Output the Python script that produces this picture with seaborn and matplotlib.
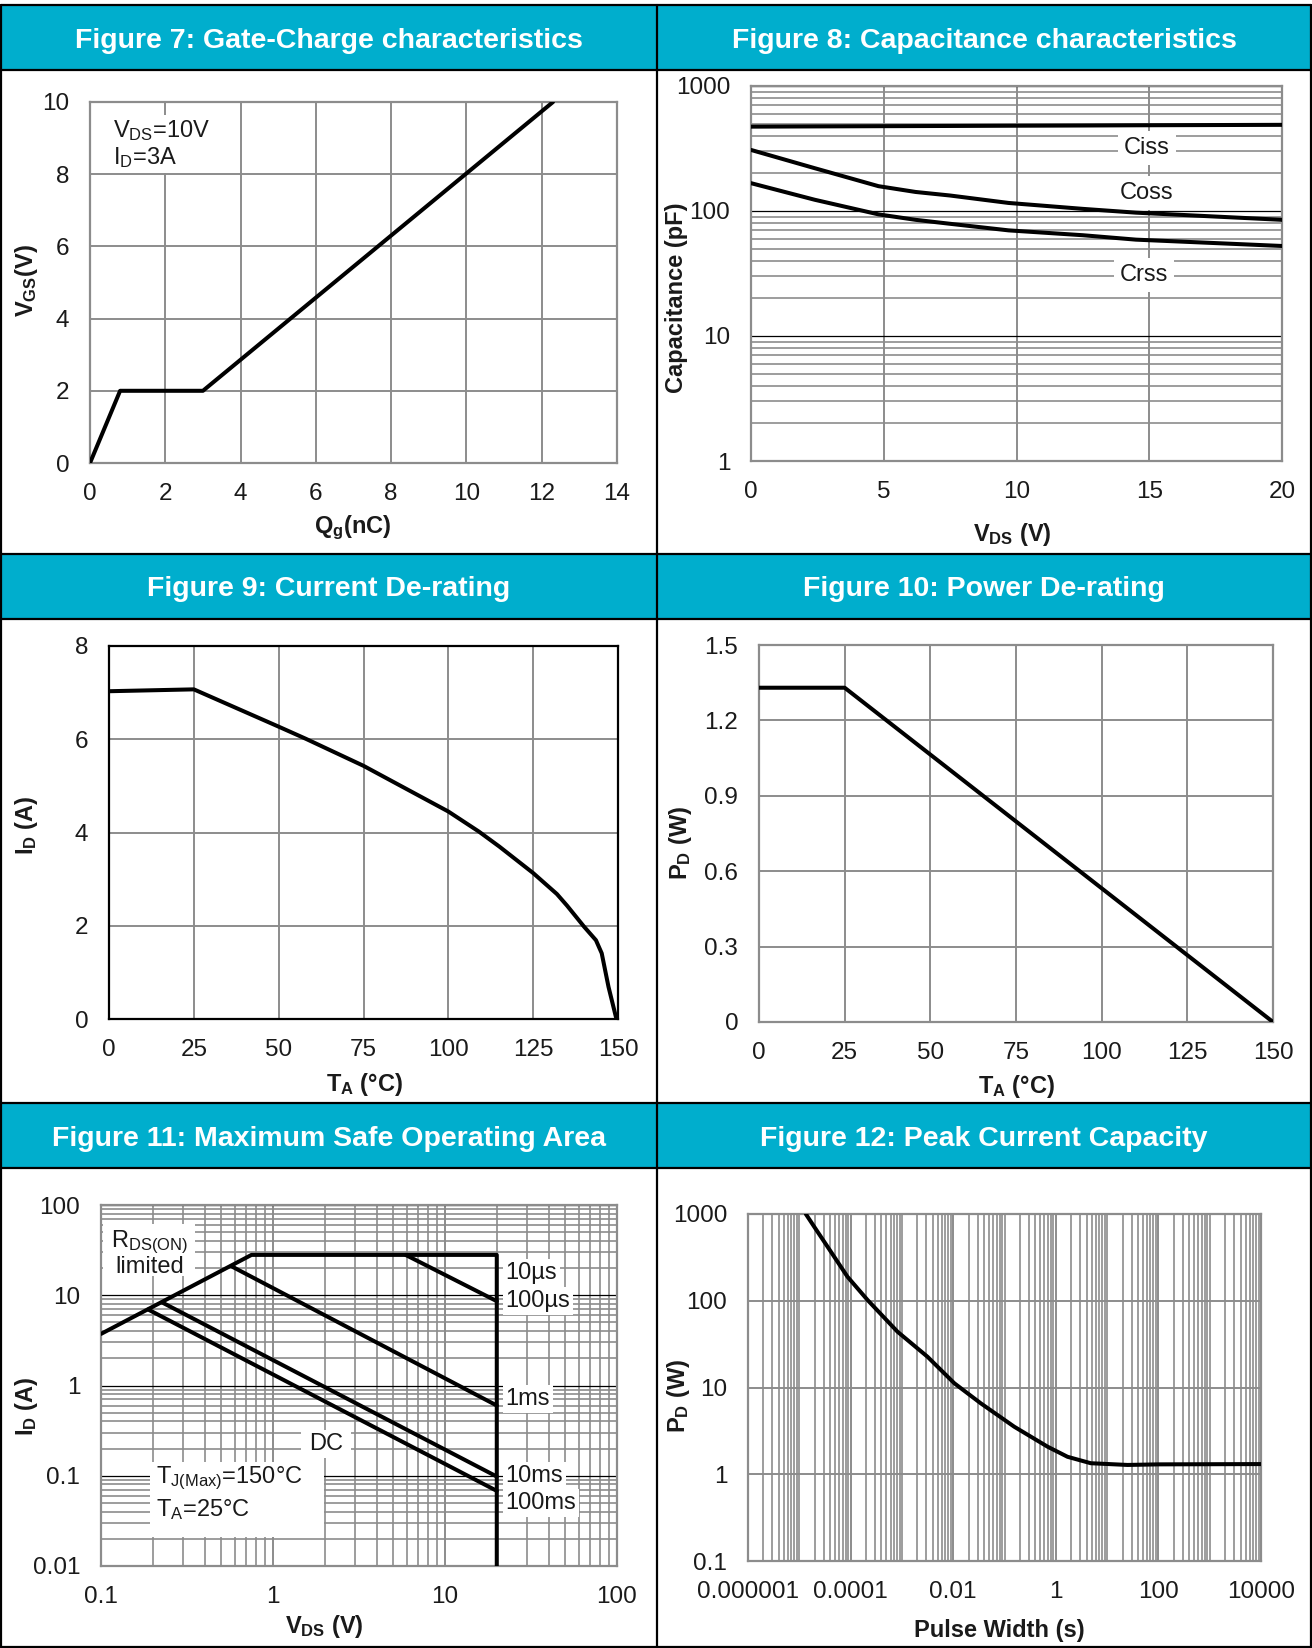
import matplotlib
matplotlib.use("Agg")
import matplotlib.pyplot as plt
from matplotlib.patches import Rectangle
from matplotlib.ticker import LogLocator, NullFormatter, FixedLocator, FixedFormatter
import seaborn as sns

W, H = 1312, 1648
TEAL = "#00AECD"
GRID = "#8c8c8c"
INK = "#1a1a1a"

# Figure 7: gate charge
qg = [0, 0.8, 3.0, 12.3]
vgs = [0, 2, 2, 10]

# Figure 8: capacitance vs VDS
vds_cap = [0, 2.4, 4.8, 6.2, 7.5, 9.7, 12.5, 14.5, 20]
ciss = [473, 475, 477, 478, 479, 481, 483, 485, 489]
coss = [308, 220, 158, 142, 133, 116, 104, 97, 85]
crss = [167, 123, 94, 85, 79, 70, 64, 59, 52.5]

# Figure 9: current de-rating
ta_id = [0, 25, 50, 58, 75, 100, 109, 115, 125, 132, 135, 140, 143.5, 145.2, 147.2, 149.4, 150]
id_max = [7.03, 7.07, 6.27, 6.01, 5.43, 4.45, 4.02, 3.70, 3.13, 2.68, 2.43, 1.98, 1.69, 1.41, 0.69, 0.04, 0]

# Figure 10: power de-rating
ta_pd = [0, 25, 150]
pd_max = [1.33, 1.33, 0]

# Figure 11: safe operating area
soa_lines = {
    "limit": ([0.1, 0.75, 20, 20], [3.73, 28, 28, 0.01]),
    "10us": ([5.9, 20], [28, 8.6]),
    "1ms": ([0.58, 20], [20.7, 0.6]),
    "10ms": ([0.226, 20], [8.35, 0.098]),
    "dc": ([0.188, 20], [6.95, 0.068]),
}
soa_xticks = [0.1, 1, 10, 100]
soa_xlabels = ["0.1", "1", "10", "100"]
soa_yticks = [0.01, 0.1, 1, 10, 100]
soa_ylabels = ["0.01", "0.1", "1", "10", "100"]

# Figure 12: peak current capacity
pulse_w = [1.34e-5, 1.95e-5, 3.55e-5, 8.7e-5, 2.14e-4, 8.2e-4, 3.16e-3, 1.05e-2,
           3.45e-2, 0.155, 0.69, 1.69, 4.8, 25, 100, 1e4]
peak_p = [1000, 714, 420, 189, 102, 44, 22.6, 11.2, 6.57, 3.53, 2.08, 1.59, 1.34,
          1.28, 1.30, 1.31]
pw_ticks = [1e-6, 1e-4, 1e-2, 1, 100, 1e4]
pw_labels = ["0.000001", "0.0001", "0.01", "1", "100", "10000"]
pk_ticks = [0.1, 1, 10, 100, 1000]
pk_labels = ["0.1", "1", "10", "100", "1000"]

titles = [
    "Figure 7: Gate-Charge characteristics",
    "Figure 8: Capacitance characteristics",
    "Figure 9: Current De-rating",
    "Figure 10: Power De-rating",
    "Figure 11: Maximum Safe Operating Area",
    "Figure 12: Peak Current Capacity",
]

sns.set_theme(style="white")
plt.rcParams["font.family"] = ["Liberation Sans", "DejaVu Sans"]
plt.rcParams["mathtext.fontset"] = "custom"
plt.rcParams["mathtext.rm"] = "Liberation Sans"
plt.rcParams["mathtext.bf"] = "Liberation Sans:bold"
plt.rcParams["mathtext.default"] = "regular"

fig = plt.figure(figsize=(W / 100, H / 100), dpi=100)
fig.patch.set_facecolor("white")

# frame and teal header bands
bg = fig.add_axes([0, 0, 1, 1])
bg.set_xlim(0, W)
bg.set_ylim(H, 0)
bg.axis("off")
headers = [(5, 70), (554, 619), (1103, 1168)]
for top, bot in headers:
    bg.add_patch(Rectangle((1, top), W - 2, bot - top, facecolor=TEAL, edgecolor="none"))
for y in [5, 70, 554, 619, 1103, 1168, H - 1]:
    bg.plot([1, W - 1], [y, y], color="black", lw=1.6)
for x in [1, 657, W - 1]:
    bg.plot([x, x], [5, H - 1], color="black", lw=1.6)
for i, t in enumerate(titles):
    top, bot = headers[i // 2]
    cx = 329 if i % 2 == 0 else 984
    bg.text(cx, (top + bot) / 2 + 3, t, color="white", fontsize=20.5, fontweight="bold",
            ha="center", va="center")


def place(x0, y0, x1, y1):
    ax = fig.add_axes([x0 / W, 1 - y1 / H, (x1 - x0) / W, (y1 - y0) / H])
    ax.box = (x0, y0, x1, y1)
    return ax


def style(ax, spine=GRID):
    for s in ax.spines.values():
        s.set_color(spine)
        s.set_linewidth(1.6)
    ax.set_facecolor("white")
    ax.tick_params(which="both", length=0, labelsize=17.5, labelcolor=INK)
    ax.tick_params(axis="x", pad=14.5)
    ax.tick_params(axis="y", pad=15)
    ax.set_axisbelow(True)


def labels(ax, xl, xpos, yl, ypos):
    x0, y0, x1, y1 = ax.box
    ax.set_xlabel(xl, fontsize=17, fontweight="bold", color=INK, va="center", ha="center")
    ax.xaxis.set_label_coords((xpos[0] - x0) / (x1 - x0), -(xpos[1] + 2 - y1) / (y1 - y0))
    ax.set_ylabel(yl, fontsize=17, fontweight="bold", color=INK, va="center", ha="center")
    ax.yaxis.set_label_coords(-(x0 - ypos[0] - 3) / (x1 - x0), (y1 - ypos[1]) / (y1 - y0))


def curve(ax, x, y):
    sns.lineplot(x=x, y=y, ax=ax, color="black", linewidth=2.9, estimator=None,
                 sort=False, zorder=4)


box = dict(facecolor="white", edgecolor="none", pad=2)
wide_box = dict(facecolor="white", edgecolor="none", pad=4.5)

# ---- Figure 7
ax = place(90, 102, 617, 463)
style(ax)
ax.grid(True, color=GRID, lw=1.4)
curve(ax, qg, vgs)
ax.set_xlim(0, 14)
ax.set_ylim(0, 10)
ax.set_xticks(range(0, 15, 2))
ax.set_yticks(range(0, 11, 2))
ax.text(0.62, 9.21, "V$_{DS}$=10V", fontsize=17, color=INK, va="center", bbox=box)
ax.text(0.62, 8.46, "I$_{D}$=3A", fontsize=17, color=INK, va="center", bbox=box)
labels(ax, "Q$_{g}$(nC)", (353, 526), "V$_{GS}$(V)", (23, 281))

# ---- Figure 8
ax = place(751, 86, 1282, 461)
style(ax)
ax.set_yscale("log")
ax.set_xlim(0, 20)
ax.set_ylim(1, 1000)
ax.set_xticks([0, 5, 10, 15, 20])
ax.yaxis.set_major_locator(FixedLocator([1, 10, 100, 1000]))
ax.yaxis.set_major_formatter(FixedFormatter(["1", "10", "100", "1000"]))
ax.yaxis.set_minor_locator(LogLocator(base=10, subs=range(2, 10)))
ax.yaxis.set_minor_formatter(NullFormatter())
ax.xaxis.grid(True, color=GRID, lw=1.4)
ax.yaxis.grid(True, which="minor", color=GRID, lw=1.2)
ax.yaxis.grid(True, which="major", color="black", lw=0.9)
for series in (ciss, coss, crss):
    curve(ax, vds_cap, series)
ax.text(14.9, 318, "Ciss", fontsize=17, color=INK, ha="center", va="center", bbox=wide_box, zorder=3)
ax.text(14.9, 140, "Coss", fontsize=17, color=INK, ha="center", va="center", bbox=wide_box, zorder=3)
ax.text(14.8, 30.7, "Crss", fontsize=17, color=INK, ha="center", va="center", bbox=wide_box, zorder=3)
labels(ax, "V$_{DS}$ (V)", (1012, 532), "Capacitance (pF)", (674, 298))

# ---- Figure 9
ax = place(109, 646, 618, 1019)
style(ax, spine="black")
ax.grid(True, color=GRID, lw=1.4)
curve(ax, ta_id, id_max)
ax.set_xlim(0, 150)
ax.set_ylim(0, 8)
ax.set_xticks(range(0, 151, 25))
ax.set_yticks(range(0, 9, 2))
labels(ax, "T$_{A}$ (°C)", (364, 1083), "I$_{D}$ (A)", (23, 825))

# ---- Figure 10
ax = place(759, 645, 1273, 1022)
style(ax)
ax.grid(True, color=GRID, lw=1.4)
curve(ax, ta_pd, pd_max)
ax.set_xlim(0, 150)
ax.set_ylim(0, 1.5)
ax.set_xticks(range(0, 151, 25))
ax.yaxis.set_major_locator(FixedLocator([0, 0.3, 0.6, 0.9, 1.2, 1.5]))
ax.yaxis.set_major_formatter(FixedFormatter(["0", "0.3", "0.6", "0.9", "1.2", "1.5"]))
labels(ax, "T$_{A}$ (°C)", (1016, 1085), "P$_{D}$ (W)", (678, 843))

# ---- Figure 11
ax = place(101, 1205, 617, 1566)
style(ax)
ax.set_xscale("log")
ax.set_yscale("log")
ax.set_xlim(0.1, 100)
ax.set_ylim(0.01, 100)
ax.xaxis.set_major_locator(FixedLocator(soa_xticks))
ax.xaxis.set_major_formatter(FixedFormatter(soa_xlabels))
ax.yaxis.set_major_locator(FixedLocator(soa_yticks))
ax.yaxis.set_major_formatter(FixedFormatter(soa_ylabels))
for axis in (ax.xaxis, ax.yaxis):
    axis.set_minor_locator(LogLocator(base=10, subs=range(2, 10)))
    axis.set_minor_formatter(NullFormatter())
ax.grid(True, which="minor", color=GRID, lw=1.2)
ax.xaxis.grid(True, which="major", color=GRID, lw=1.4)
ax.yaxis.grid(True, which="major", color="black", lw=0.9)
for key, (vx, iy) in soa_lines.items():
    curve(ax, vx, iy)
ax.add_patch(Rectangle((0.103, 16.4), 0.247, 44.6, facecolor="white", edgecolor="none", zorder=2))
ax.add_patch(Rectangle((1.45, 0.156), 1.4, 0.164, facecolor="white", edgecolor="none", zorder=2))
ax.add_patch(Rectangle((0.193, 0.0212), 1.79, 0.122, facecolor="white", edgecolor="none", zorder=2))
ax.text(0.191, 28.8, "R$_{DS(ON)}$\nlimited", fontsize=17, color=INK, ha="center",
        va="center", multialignment="center", zorder=3, linespacing=1.0)
ax.text(2.03, 0.227, "DC", fontsize=17, color=INK, ha="center", va="center", zorder=3)
ax.text(0.21, 0.093, "T$_{J(Max)}$=150°C", fontsize=17, color=INK, va="center", zorder=3)
ax.text(0.21, 0.042, "T$_{A}$=25°C", fontsize=17, color=INK, va="center", zorder=3)
for txt, yv in [("10µs", 17.5), ("100µs", 8.7), ("1ms", 0.71), ("10ms", 0.099), ("100ms", 0.0495)]:
    ax.text(22.5, yv, txt, fontsize=17, color=INK, va="center", bbox=box, zorder=3)
labels(ax, "V$_{DS}$ (V)", (324, 1625), "I$_{D}$ (A)", (23, 1406))

# ---- Figure 12
ax = place(748, 1214, 1261, 1561)
style(ax)
ax.set_xscale("log")
ax.set_yscale("log")
ax.set_xlim(1e-6, 1e4)
ax.set_ylim(0.1, 1000)
ax.xaxis.set_major_locator(FixedLocator(pw_ticks))
ax.xaxis.set_major_formatter(FixedFormatter(pw_labels))
ax.yaxis.set_major_locator(FixedLocator(pk_ticks))
ax.yaxis.set_major_formatter(FixedFormatter(pk_labels))
ax.xaxis.set_minor_locator(LogLocator(base=10, subs=range(1, 10), numticks=40))
ax.xaxis.set_minor_formatter(NullFormatter())
ax.xaxis.grid(True, which="minor", color=GRID, lw=1.2)
ax.grid(True, which="major", color=GRID, lw=1.4)
curve(ax, pulse_w, peak_p)
labels(ax, "Pulse Width (s)", (999, 1629), "P$_{D}$ (W)", (676, 1396))

fig.savefig("out.png", dpi=100, facecolor="white")
